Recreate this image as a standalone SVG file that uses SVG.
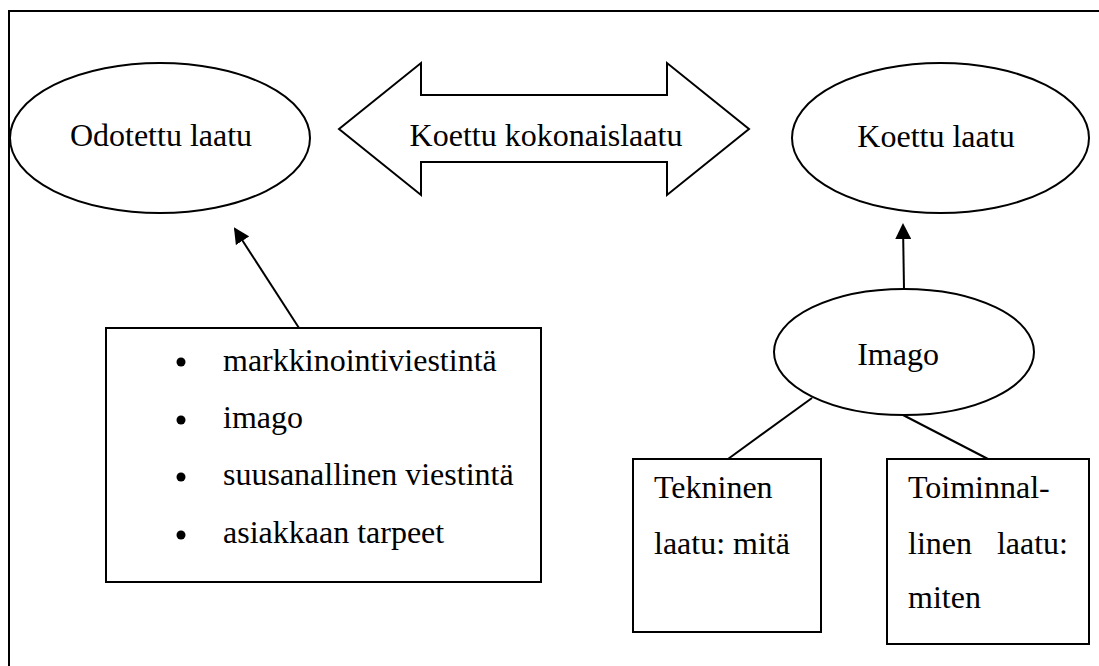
<svg xmlns="http://www.w3.org/2000/svg" width="1099" height="666" viewBox="0 0 1099 666">
<style>
.s{fill:#fff;stroke:#000;stroke-width:2}
.t{font-family:"Liberation Serif","Times New Roman",serif;font-size:32px;fill:#000}
.c{stroke:#000;stroke-width:2;fill:none}
</style>
<defs>
<marker id="ah" markerWidth="16" markerHeight="16" refX="14" refY="8" orient="auto" markerUnits="userSpaceOnUse">
<path d="M0,0 L16,8 L0,16 Z" fill="#000"/>
</marker>
</defs>
<rect width="1099" height="666" fill="#fff"/>
<path d="M9,666 V11 H1099" class="c"/>
<g id="odotettu">
<ellipse cx="160" cy="138" rx="150" ry="75" class="s"/>
<text x="161" y="146" class="t" text-anchor="middle">Odotettu laatu</text>
</g>
<g id="kokonaislaatu">
<path d="M339,129 L421,63 L421,95 L667,95 L667,63 L749,129 L667,195 L667,162 L421,162 L421,195 Z" class="s"/>
<text x="546" y="146" class="t" text-anchor="middle">Koettu kokonaislaatu</text>
</g>
<g id="koettu">
<ellipse cx="940.5" cy="138" rx="148.5" ry="75" class="s"/>
<text x="936" y="147" class="t" text-anchor="middle">Koettu laatu</text>
</g>
<g id="lista">
<rect x="106" y="328" width="435" height="254" class="s"/>
<circle cx="181" cy="362" r="4.5"/>
<circle cx="181" cy="420" r="4.5"/>
<circle cx="181" cy="477" r="4.5"/>
<circle cx="181" cy="535" r="4.5"/>
<text x="223" y="371" class="t">markkinointiviestintä</text>
<text x="223" y="428" class="t">imago</text>
<text x="223" y="485" class="t">suusanallinen viestintä</text>
<text x="223" y="543" class="t">asiakkaan tarpeet</text>
</g>
<g id="imago">
<ellipse cx="904" cy="352" rx="130" ry="63" class="s"/>
<text x="898" y="365" class="t" text-anchor="middle">Imago</text>
</g>
<g id="tekninen">
<rect x="633" y="459" width="188" height="173" class="s"/>
<text x="654" y="498" class="t">Tekninen</text>
<text x="654" y="554" class="t">laatu: mitä</text>
</g>
<g id="toiminnallinen">
<rect x="887" y="459" width="202" height="185" class="s"/>
<text x="908" y="498" class="t">Toiminnal-</text>
<text x="908" y="554" class="t">linen</text>
<text x="1068" y="554" class="t" text-anchor="end">laatu:</text>
<text x="908" y="608" class="t">miten</text>
</g>
<g id="connectors">
<line x1="299" y1="328" x2="235" y2="229" class="c" marker-end="url(#ah)"/>
<line x1="904" y1="289" x2="903" y2="225" class="c" marker-end="url(#ah)"/>
<line x1="812" y1="398" x2="728" y2="459" class="c"/>
<line x1="903" y1="415" x2="988" y2="459" class="c"/>
</g>
</svg>
